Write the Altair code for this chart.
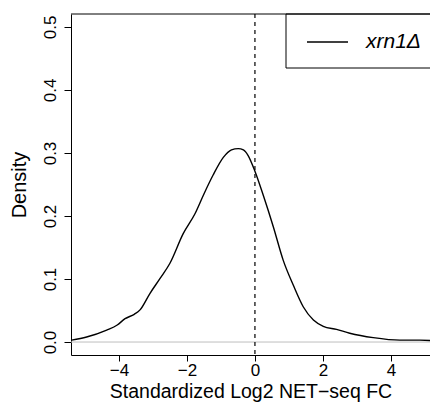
import altair as alt
import pandas as pd

# Density curve
xs = [-5.39, -4.95, -4.36, -4.05, -3.82, -3.55, -3.38, -3.09, -2.79, -2.50,
      -2.11, -1.76, -1.50, -1.23, -0.93, -0.69, -0.49, -0.34, -0.20, 0.00,
      0.25, 0.54, 0.83, 1.13, 1.42, 1.72, 2.01, 2.40, 2.79, 3.48,
      4.26, 4.85, 5.38]
dens = [0.003, 0.008, 0.019, 0.027, 0.037, 0.044, 0.051, 0.077, 0.101, 0.125,
        0.172, 0.204, 0.235, 0.265, 0.293, 0.305, 0.307, 0.305, 0.296, 0.271,
        0.232, 0.183, 0.130, 0.090, 0.056, 0.035, 0.025, 0.020, 0.014, 0.007,
        0.003, 0.003, 0.0015]
x_ticks = [-4, -2, 0, 2, 4]
y_ticks = [0.0, 0.1, 0.2, 0.3, 0.4, 0.5]
legend_labels = ["xrn1\u0394"]
x_title = "Standardized Log2 NET\u2212seq FC"
y_title = "Density"

W, H = 359, 341
FONT = "Liberation Sans"

df = pd.DataFrame({"x": xs, "density": dens})
xscale = alt.Scale(domain=[-5.41, 5.149], nice=False, zero=False)
yscale = alt.Scale(domain=[-0.0206, 0.5206], nice=False, zero=False)

xaxis = alt.Axis(values=x_ticks, title=x_title, format="d", tickSize=6,
                 labelPadding=1, labelFontSize=17, titleFontSize=19.5,
                 titlePadding=4, grid=False)
yaxis = alt.Axis(values=y_ticks, title=y_title, format=".1f", tickSize=7,
                 labelAngle=270, labelAlign="center", labelBaseline="bottom",
                 labelPadding=5, labelFontSize=17, titleFontSize=20,
                 titlePadding=12, grid=False)

zero_line = alt.Chart(pd.DataFrame({"density": [0.0]})).mark_rule(
    color="#bebebe", strokeWidth=1).encode(y=alt.Y("density:Q", scale=yscale, axis=yaxis))

vline = alt.Chart(pd.DataFrame({"x": [0.0]})).mark_rule(
    color="black", strokeDash=[4, 4], strokeWidth=1.2).encode(x=alt.X("x:Q", scale=xscale, axis=xaxis))

curve = alt.Chart(df).mark_line(color="black", strokeWidth=1.4,
                                interpolate="monotone", clip=True).encode(
    x=alt.X("x:Q", scale=xscale, axis=xaxis),
    y=alt.Y("density:Q", scale=yscale, axis=yaxis),
)

leg_df = pd.DataFrame({"label": legend_labels})
leg_box = alt.Chart(leg_df).mark_rect(fill="white", stroke="black", strokeWidth=1).encode(
    x=alt.value(215), x2=alt.value(W + 5), y=alt.value(0), y2=alt.value(54))
leg_line = alt.Chart(leg_df).mark_rule(color="black", strokeWidth=1.3).encode(
    x=alt.value(236), x2=alt.value(277), y=alt.value(28))
leg_text = alt.Chart(leg_df).mark_text(align="left", baseline="middle", fontStyle="italic",
                                       fontSize=21, font=FONT, color="black").encode(
    x=alt.value(295), y=alt.value(28), text="label:N")

top_rule = alt.Chart(leg_df).mark_rule(color="black", strokeWidth=1).encode(
    x=alt.value(0), x2=alt.value(W), y=alt.value(0))

chart = alt.layer(zero_line, vline, curve, leg_box, leg_line, leg_text, top_rule).properties(
    width=W, height=H,
    autosize=alt.AutoSizeParams(type="none"),
    padding={"left": 63, "top": 6, "right": 0, "bottom": 47},
    background="white",
).configure_view(stroke=None).configure_axis(
    labelFont=FONT, titleFont=FONT, labelColor="black", titleColor="black",
    domainColor="black", tickColor="black", titleFontWeight="normal",
    domainWidth=1, tickWidth=1,
)

chart.save("out.html", embed_options={"renderer": "svg", "actions": False})
